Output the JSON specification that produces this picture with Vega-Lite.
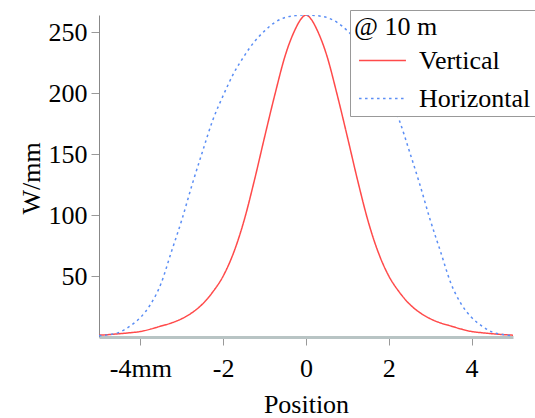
{
  "$schema": "https://vega.github.io/schema/vega-lite/v6.json",
  "autosize": "none",
  "width": 414,
  "height": 322,
  "padding": {"left": 99, "top": 15, "right": 22, "bottom": 81},
  "background": "white",
  "config": {
    "font": "Liberation Serif",
    "view": {"stroke": null},
    "axis": {"grid": false, "labelFont": "Liberation Serif", "titleFont": "Liberation Serif", "labelFontSize": 26, "titleFontSize": 26, "labelColor": "black", "titleColor": "black", "titleFontWeight": "normal", "tickColor": "#999999", "tickSize": 8},
    "legend": {"orient": "none", "legendX": 251, "legendY": -5, "strokeColor": "#999999", "fillColor": "white", "padding": 4,
      "titleFont": "Liberation Serif", "titleFontSize": 26, "titleFontWeight": "normal", "titleColor": "black", "titlePadding": -4,
      "labelFont": "Liberation Serif", "labelFontSize": 26, "labelColor": "black", "labelOffset": 12, "rowPadding": -12,
      "symbolType": "stroke", "symbolSize": 2200, "symbolStrokeWidth": 1.5, "symbolOffset": 4}
  },
  "data": {"values": [
    {"x": -5, "v": 1.5, "s": "Vertical"}, {"x": -4.75, "v": 2, "s": "Vertical"}, {"x": -4.5, "v": 2.7, "s": "Vertical"}, {"x": -4.25, "v": 3.5, "s": "Vertical"}, {"x": -4, "v": 4.5, "s": "Vertical"}, {"x": -3.75, "v": 6.5, "s": "Vertical"}, {"x": -3.5, "v": 9, "s": "Vertical"}, {"x": -3.25, "v": 11.5, "s": "Vertical"}, {"x": -3, "v": 15, "s": "Vertical"}, {"x": -2.75, "v": 20, "s": "Vertical"}, {"x": -2.5, "v": 27, "s": "Vertical"}, {"x": -2.25, "v": 37, "s": "Vertical"}, {"x": -2, "v": 50, "s": "Vertical"}, {"x": -1.75, "v": 69, "s": "Vertical"}, {"x": -1.5, "v": 95, "s": "Vertical"}, {"x": -1.25, "v": 128, "s": "Vertical"}, {"x": -1, "v": 164, "s": "Vertical"}, {"x": -0.75, "v": 199, "s": "Vertical"}, {"x": -0.5, "v": 231, "s": "Vertical"}, {"x": -0.25, "v": 253, "s": "Vertical"}, {"x": -0.125, "v": 260.5, "s": "Vertical"}, {"x": 0, "v": 264, "s": "Vertical"}, {"x": 0.125, "v": 260.5, "s": "Vertical"}, {"x": 0.25, "v": 253, "s": "Vertical"}, {"x": 0.5, "v": 231, "s": "Vertical"}, {"x": 0.75, "v": 199, "s": "Vertical"}, {"x": 1, "v": 164, "s": "Vertical"}, {"x": 1.25, "v": 128, "s": "Vertical"}, {"x": 1.5, "v": 95, "s": "Vertical"}, {"x": 1.75, "v": 69, "s": "Vertical"}, {"x": 2, "v": 50, "s": "Vertical"}, {"x": 2.25, "v": 37, "s": "Vertical"}, {"x": 2.5, "v": 27, "s": "Vertical"}, {"x": 2.75, "v": 20, "s": "Vertical"}, {"x": 3, "v": 15, "s": "Vertical"}, {"x": 3.25, "v": 11.5, "s": "Vertical"}, {"x": 3.5, "v": 9, "s": "Vertical"}, {"x": 3.75, "v": 6.5, "s": "Vertical"}, {"x": 4, "v": 4.5, "s": "Vertical"}, {"x": 4.25, "v": 3.5, "s": "Vertical"}, {"x": 4.5, "v": 2.7, "s": "Vertical"}, {"x": 4.75, "v": 2, "s": "Vertical"}, {"x": 5, "v": 1.5, "s": "Vertical"},
    {"x": -5, "v": 1, "s": "Horizontal"}, {"x": -4.75, "v": 2, "s": "Horizontal"}, {"x": -4.5, "v": 4, "s": "Horizontal"}, {"x": -4.25, "v": 9, "s": "Horizontal"}, {"x": -4, "v": 16, "s": "Horizontal"}, {"x": -3.75, "v": 27, "s": "Horizontal"}, {"x": -3.5, "v": 44, "s": "Horizontal"}, {"x": -3.25, "v": 70, "s": "Horizontal"}, {"x": -3, "v": 96, "s": "Horizontal"}, {"x": -2.75, "v": 125, "s": "Horizontal"}, {"x": -2.5, "v": 152, "s": "Horizontal"}, {"x": -2.25, "v": 178, "s": "Horizontal"}, {"x": -2, "v": 198, "s": "Horizontal"}, {"x": -1.75, "v": 216, "s": "Horizontal"}, {"x": -1.5, "v": 230, "s": "Horizontal"}, {"x": -1.25, "v": 242, "s": "Horizontal"}, {"x": -1, "v": 251, "s": "Horizontal"}, {"x": -0.75, "v": 258, "s": "Horizontal"}, {"x": -0.5, "v": 262, "s": "Horizontal"}, {"x": -0.25, "v": 263.5, "s": "Horizontal"}, {"x": -0.125, "v": 263.9, "s": "Horizontal"}, {"x": 0, "v": 264, "s": "Horizontal"}, {"x": 0.125, "v": 263.9, "s": "Horizontal"}, {"x": 0.25, "v": 263.5, "s": "Horizontal"}, {"x": 0.5, "v": 262, "s": "Horizontal"}, {"x": 0.75, "v": 258, "s": "Horizontal"}, {"x": 1, "v": 251, "s": "Horizontal"}, {"x": 1.25, "v": 242, "s": "Horizontal"}, {"x": 1.5, "v": 230, "s": "Horizontal"}, {"x": 1.75, "v": 216, "s": "Horizontal"}, {"x": 2, "v": 198, "s": "Horizontal"}, {"x": 2.25, "v": 178, "s": "Horizontal"}, {"x": 2.5, "v": 152, "s": "Horizontal"}, {"x": 2.75, "v": 125, "s": "Horizontal"}, {"x": 3, "v": 96, "s": "Horizontal"}, {"x": 3.25, "v": 70, "s": "Horizontal"}, {"x": 3.5, "v": 44, "s": "Horizontal"}, {"x": 3.75, "v": 27, "s": "Horizontal"}, {"x": 4, "v": 16, "s": "Horizontal"}, {"x": 4.25, "v": 9, "s": "Horizontal"}, {"x": 4.5, "v": 4, "s": "Horizontal"}, {"x": 4.75, "v": 2, "s": "Horizontal"}, {"x": 5, "v": 1, "s": "Horizontal"}
  ]},
  "mark": {"type": "line", "interpolate": "monotone", "strokeWidth": 1.5, "clip": true},
  "encoding": {
    "x": {"field": "x", "type": "quantitative", "scale": {"domain": [-5, 5], "nice": false, "zero": false},
      "axis": {"title": "Position", "values": [-4, -2, 0, 2, 4], "labelPadding": 10, "domainColor": "#b8c4c4", "domainWidth": 3, "titleY": 75, "titleBaseline": "alphabetic",
        "labelExpr": "datum.value == -4 ? '-4mm' : (datum.value < 0 ? '-' + abs(datum.value) : '' + datum.value)"}},
    "y": {"field": "v", "type": "quantitative", "scale": {"domain": [0, 264], "nice": false},
      "axis": {"title": "W/mm", "values": [50, 100, 150, 200, 250], "labelPadding": 4, "domainColor": "#888888", "domainWidth": 1, "titleX": -68, "titleY": 163, "titleAngle": -90, "titleAlign": "center", "titleBaseline": "middle"}},
    "color": {"field": "s", "type": "nominal", "sort": ["Vertical", "Horizontal"],
      "scale": {"domain": ["Vertical", "Horizontal"], "range": ["#ff4a4a", "#5b8ef5"]},
      "legend": {"title": "@ 10 m"}},
    "strokeDash": {"field": "s", "type": "nominal", "sort": ["Vertical", "Horizontal"],
      "scale": {"domain": ["Vertical", "Horizontal"], "range": [[1, 0], [2.5, 3.5]]},
      "legend": {"title": "@ 10 m"}}
  }
}
